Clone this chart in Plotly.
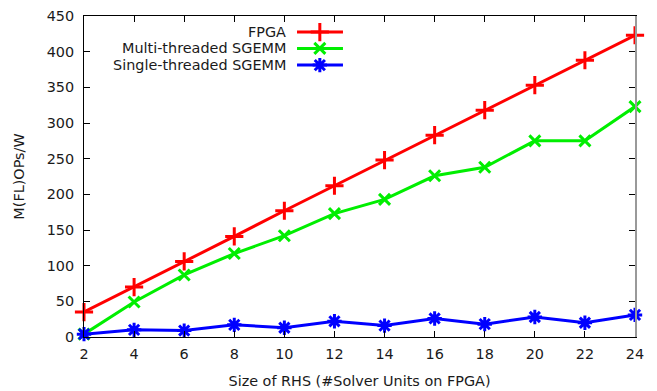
import plotly.graph_objects as go

x_vals = [2, 4, 6, 8, 10, 12, 14, 16, 18, 20, 22, 24]
fpga = [35, 70, 106, 141, 177, 212, 248, 283, 318, 353, 388, 423]
multi = [4, 49, 87, 117, 142, 173, 193, 226, 238, 275, 275, 323]
single = [4, 10, 9, 17, 13, 22, 16, 26, 18, 28, 20, 31]
names = ["FPGA", "Multi-threaded SGEMM", "Single-threaded SGEMM"]
colors = ["#ff0000", "#00ee00", "#0000ff"]
symbols = ["cross-thin", "x-thin", "asterisk"]
sizes = [13, 11, 12]
x_ticks = list(range(2, 25, 2))
y_ticks = list(range(0, 451, 50))

FONT = "DejaVu Sans"
FS = 14.4
TXT = "#1a1a1a"
fig = go.Figure()
for vals, name, c, s, sz in zip([fpga, multi, single], names, colors, symbols, sizes):
    fig.add_trace(go.Scatter(
        x=x_vals, y=vals, mode="lines+markers", name=name,
        line=dict(color=c, width=3),
        marker=dict(symbol=s, size=sz, color=c, line=dict(color=c, width=3)),
        showlegend=False, cliponaxis=False))

# manual legend (text left, sample right) on hidden overlay axes
leg_y = [0.950, 0.899, 0.847]
for i, (name, c, s, sz) in enumerate(zip(names, colors, symbols, sizes)):
    fig.add_trace(go.Scatter(
        x=[0.3866, 0.470], y=[leg_y[i]] * 2, mode="lines",
        line=dict(color=c, width=3), xaxis="x2", yaxis="y3", showlegend=False,
        hoverinfo="skip"))
    fig.add_trace(go.Scatter(
        x=[0.428], y=[leg_y[i]], mode="markers",
        marker=dict(symbol=s, size=sz, color=c, line=dict(color=c, width=3)),
        xaxis="x2", yaxis="y3", showlegend=False, hoverinfo="skip"))
    fig.add_annotation(text=name, xref="paper", yref="paper", x=0.370, y=leg_y[i],
                       xanchor="right", yanchor="middle", showarrow=False,
                       font=dict(family=FONT, size=FS, color=TXT))

fig.update_layout(
    width=657, height=391,
    margin=dict(l=84, r=22, t=16, b=54),
    paper_bgcolor="white", plot_bgcolor="white",
    font=dict(family=FONT, size=FS, color=TXT),
    xaxis=dict(range=[2, 24], tickvals=x_ticks, ticks="inside", ticklen=6,
               tickcolor="black", showline=True, linecolor="black", linewidth=1,
               mirror="ticks", showgrid=False, zeroline=False, ticklabelstandoff=4,
               automargin=False,
               tickfont=dict(family=FONT, size=FS, color=TXT),
               title=dict(text="Size of RHS (#Solver Units on FPGA)", standoff=14,
                          font=dict(family=FONT, size=FS, color=TXT))),
    yaxis=dict(range=[0, 450], tickvals=y_ticks, ticks="inside", ticklen=6,
               tickcolor="black", showline=True, linecolor="black", linewidth=1,
               mirror=False, showgrid=False, zeroline=False, ticklabelstandoff=6,
               automargin=False,
               tickfont=dict(family=FONT, size=FS, color=TXT),
               title=dict(text="M(FL)OPs/W", standoff=18,
                          font=dict(family=FONT, size=FS, color=TXT))),
    yaxis2=dict(range=[0, 450], tickvals=y_ticks, ticks="inside", ticklen=6,
                tickcolor="black", showline=True, linecolor="#999999", linewidth=2,
                showticklabels=False, showgrid=False, zeroline=False,
                automargin=False, overlaying="y", side="right"),
    xaxis2=dict(range=[0, 1], visible=False, overlaying="x", automargin=False),
    yaxis3=dict(range=[0, 1], visible=False, overlaying="y", automargin=False),
)
# dummy trace to activate yaxis2
fig.add_trace(go.Scatter(x=[None], y=[None], yaxis="y2", showlegend=False))

fig.write_html("out.html")
